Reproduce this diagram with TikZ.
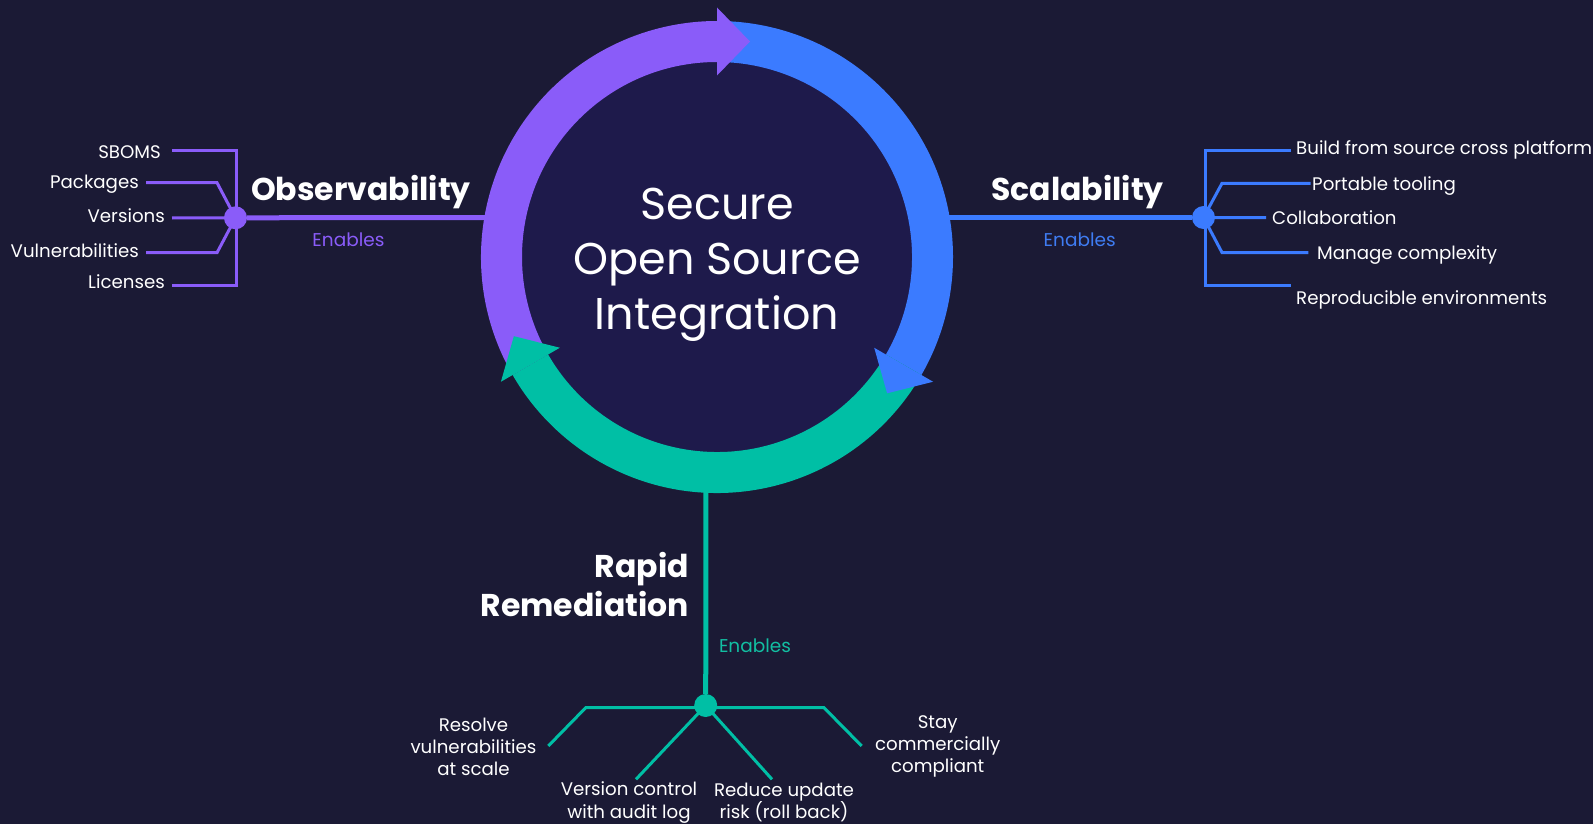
\documentclass[tikz,border=0pt]{standalone}
\usepackage{fontspec}
\setmainfont{Poppins}
\usetikzlibrary{calc}
\definecolor{bg}{HTML}{1B1A35}
\definecolor{disk}{HTML}{1E1A4B}
\definecolor{pur}{HTML}{8A5CF9}
\definecolor{blu}{HTML}{3B7BFF}
\definecolor{tea}{HTML}{00BFA5}
\definecolor{enblu}{HTML}{3F7CF2}
\definecolor{entea}{HTML}{12BFA2}
\begin{document}
\begin{tikzpicture}[x=1pt,y=-1pt,
  lab/.style={font=\fontsize{18.2}{22.2}\selectfont, text=white, inner sep=0pt},
  head/.style={font=\bfseries\fontsize{31.5}{39}\selectfont, text=white, inner sep=0pt},
  enab/.style={font=\fontsize{18.5}{22}\selectfont, inner sep=0pt},
  branch/.style={line width=3pt, line join=miter},
  trunk/.style={line width=5pt},
  hub/.style={circle, inner sep=0pt, minimum size=23pt}
]
\fill[bg] (0,0) rectangle (1593,824);
\useasboundingbox (0,0) rectangle (1593,824);

% ring
\begin{scope}[shift={(717,257)}, y=1pt]
  \fill[disk] (0,0) circle[radius=200];
  \fill[pur] (210:236) arc[start angle=210, end angle=90, radius=236] -- (90:195) arc[start angle=90, end angle=210, radius=195] -- cycle;
  \fill[blu] (90:236) arc[start angle=90, end angle=-30, radius=236] -- (-30:195) arc[start angle=-30, end angle=90, radius=195] -- cycle;
  \fill[tea] (-30:236) arc[start angle=-30, end angle=-150, radius=236] -- (-150:195) arc[start angle=-150, end angle=-30, radius=195] -- cycle;
  \fill[pur] (90:181.5) -- (90:249.5) -- ($(90:215.5)+(0:33)$) -- cycle;
  \fill[blu] (-30:181.5) -- (-30:249.5) -- ($(-30:215.5)+(-120:33)$) -- cycle;
  \fill[tea] (210:181.5) -- (210:249.5) -- ($(210:215.5)+(120:33)$) -- cycle;
\end{scope}

\node[font=\fontsize{44.5}{54.8}\selectfont, text=white, align=center, inner sep=0pt] (title) at (717,265) {Secure\\Open Source\\Integration};

% ring anchor points
\coordinate (ringL) at (495,217.5);
\coordinate (ringR) at (940,217.5);
\coordinate (ringB) at (706,480);

% hubs
\node[hub, fill=pur] (hubL) at (235.5,217.8) {};
\node[hub, fill=blu] (hubR) at (1203.5,217.5) {};
\node[hub, fill=tea] (hubB) at (705.7,705.5) {};

\draw[pur, trunk] (hubL) -- (ringL);
\draw[blu, trunk] (ringR) -- (hubR);
\draw[tea, trunk] (ringB) -- (hubB);

% left branches
\coordinate (sbA) at (172,150.7); \coordinate (sbB) at (236,150.7);
\coordinate (liB) at (236,285);   \coordinate (liA) at (172,285);
\coordinate (paA) at (146,182.7); \coordinate (paB) at (217,182.7);
\coordinate (veA) at (172,218);
\coordinate (vuA) at (146,252.7); \coordinate (vuB) at (217,252.7);
\draw[pur, branch] (sbA) -- (sbB) -- (liB) -- (liA);
\draw[pur, branch] (paA) -- (paB) -- (hubL.center);
\draw[pur, branch] (veA) -- (hubL.center);
\draw[pur, branch] (vuA) -- (vuB) -- (hubL.center);

\node[lab, anchor=base east] (sboms) at (161,158) {SBOMS};
\node[lab, anchor=base east] (pack) at (139,188.4) {Packages};
\node[lab, anchor=base east] (vers) at (165,222.7) {Versions};
\node[lab, anchor=base east] (vuln) at (139,257.7) {Vulnerabilities};
\node[lab, anchor=base east] (lic) at (165,288.3) {Licenses};

\node[head, anchor=base] (obs) at (361,200) {Observability};
\node[enab, text=pur, anchor=base] (enL) at (348.5,246) {Enables};

% right branches
\coordinate (buA) at (1290.7,150.7); \coordinate (buB) at (1205,150.7);
\coordinate (reB) at (1205,285.5);   \coordinate (reA) at (1291,285.5);
\coordinate (poA) at (1310.5,183.3); \coordinate (poB) at (1222,183.3);
\coordinate (coA) at (1266,217.7);
\coordinate (maA) at (1308.4,252.5); \coordinate (maB) at (1222,252.5);
\draw[blu, branch] (buA) -- (buB) -- (reB) -- (reA);
\draw[blu, branch] (poA) -- (poB) -- (hubR.center);
\draw[blu, branch] (hubR.center) -- (coA);
\draw[blu, branch] (maA) -- (maB) -- (hubR.center);

\node[lab, anchor=base west] (build) at (1296,155) {Build from source cross platform};
\node[lab, anchor=base west] (port) at (1312,190.5) {Portable tooling};
\node[lab, anchor=base west] (coll) at (1272,224.3) {Collaboration};
\node[lab, anchor=base west] (man) at (1317,259.5) {Manage complexity};
\node[lab, anchor=base west] (repro) at (1296,304.5) {Reproducible environments};

\node[head, anchor=base] (scal) at (1077.5,200) {Scalability};
\node[enab, text=enblu, anchor=base] (enR) at (1079.7,246) {Enables};

% bottom branches
\coordinate (bl1) at (585.7,707.7); \coordinate (bl2) at (548.3,746);
\coordinate (br1) at (824,707.7);   \coordinate (br2) at (861.7,746);
\coordinate (bv) at (636,779.3);    \coordinate (bu) at (772,779.3);
\draw[tea, branch] (bl2) -- (bl1) -- (br1) -- (br2);
\draw[tea, branch] (hubB.center) -- (bv);
\draw[tea, branch] (hubB.center) -- (bu);

\node[head, align=right, anchor=east] (rapid) at (689,584.5) {Rapid\\Remediation};
\node[enab, text=entea, anchor=base west] (enB) at (718.8,652) {Enables};

\node[lab, align=center] (resolve) at (473.5,746.7) {Resolve\\vulnerabilities\\at scale};
\node[lab, align=center] (stay) at (937.7,746.7) {Stay\\commercially\\compliant};
\node[lab, align=center] (vc) at (629,802.5) {Version control\\with audit log};
\node[lab, align=center] (ru) at (784,802.5) {Reduce update\\risk (roll back)};
\end{tikzpicture}
\end{document}
